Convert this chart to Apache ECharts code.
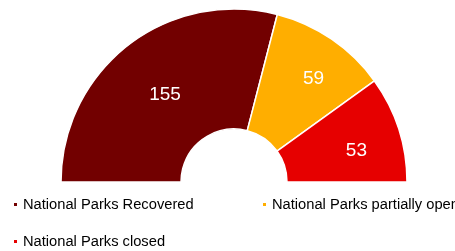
<!DOCTYPE html>
<html>
<head>
<meta charset="utf-8">
<script src="https://cdn.jsdelivr.net/npm/echarts@6/dist/echarts.min.js"></script>
<style>
  html, body { margin: 0; padding: 0; background: #fff; }
  #chart { width: 455px; height: 251px; }
</style>
</head>
<body>
<div id="chart"></div>
<script>
// data
const categories = ["National Parks Recovered", "National Parks partially open", "National Parks closed"];
const values = [155, 59, 53];
const colors = ["#720000", "#FFAE00", "#E60000"];

const myChart = echarts.init(document.getElementById("chart"));

// one legend per item so they sit where the original has them
const legendPos = [
  { left: 12, top: 197 },
  { left: 261, top: 197 },
  { left: 12, top: 234 },
];
// nudges for the value labels (the original puts the small ones further out)
const labelNudge = [[2, 4], [14, -8], [12, 4]];

const option = {
  animation: false,
  legend: categories.map((name, i) => ({
    data: [name],
    left: legendPos[i].left,
    top: legendPos[i].top,
    padding: 0,
    icon: "rect",
    itemWidth: 5,
    itemHeight: 5,
    textStyle: { fontFamily: "Liberation Sans", fontSize: 14.7, color: "#000" },
  })),
  series: [
    {
      type: "pie",
      center: [234, 182],
      radius: [53, 173],
      startAngle: 180,
      endAngle: 0,
      clockwise: true,
      itemStyle: { borderColor: "#fff", borderWidth: 1.5 },
      label: {
        position: "inside",
        formatter: "{c}",
        color: "#fff",
        fontFamily: "Liberation Sans",
        fontSize: 19,
      },
      labelLine: { show: false },
      data: categories.map((name, i) => ({
        name: name,
        value: values[i],
        itemStyle: { color: colors[i] },
        label: { offset: labelNudge[i] },
      })),
    },
  ],
};
option && myChart.setOption(option);
</script>
</body>
</html>
